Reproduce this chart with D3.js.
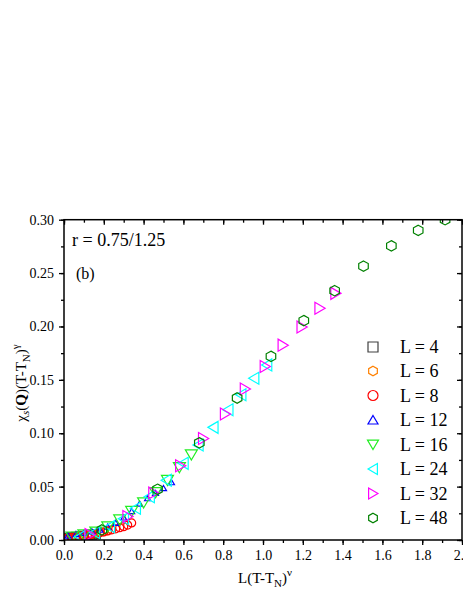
<!DOCTYPE html>
<html><head><meta charset="utf-8">
<script src="https://cdn.jsdelivr.net/npm/d3@7"></script>
<style>body{margin:0;background:#fff}svg{display:block}</style>
</head><body>
<svg id="c" width="463" height="599"></svg>
<script>
// ---- data ----
const seriesLabels = ["L = 4","L = 6","L = 8","L = 12","L = 16","L = 24","L = 32","L = 48"];
const l4x = [0.00,0.02,0.04,0.06,0.08,0.10,0.12,0.14,0.16];
const l4y = [0.0015,0.002,0.0025,0.003,0.0035,0.004,0.0045,0.005,0.0055];
const l6x = [0.00,0.02,0.04,0.06,0.08,0.10,0.12,0.14,0.16,0.18,0.20,0.22];
const l6y = [0.0015,0.002,0.0025,0.003,0.0035,0.004,0.0045,0.005,0.0057,0.0065,0.0075,0.0085];
const l8x = [0.00,0.02,0.04,0.06,0.08,0.10,0.12,0.14,0.16,0.18,0.20,0.22,0.24,0.26,0.28,0.30,0.32,0.34];
const l8y = [0.0012,0.0018,0.0024,0.003,0.0036,0.0042,0.0048,0.0054,0.006,0.0068,0.0076,0.0085,0.0095,0.0105,0.0115,0.0125,0.014,0.016];
const l12x = [0.02,0.06,0.10,0.14,0.18,0.22,0.26,0.30,0.34,0.38,0.42,0.46,0.50,0.54];
const l12y = [0.004,0.0055,0.0065,0.008,0.0095,0.0125,0.016,0.021,0.027,0.034,0.039,0.044,0.0485,0.054];
const l16x = [0.04,0.10,0.16,0.22,0.28,0.34,0.40,0.46,0.52,0.58,0.64];
const l16y = [0.003,0.005,0.0075,0.0125,0.019,0.027,0.035,0.0445,0.056,0.068,0.080];
const l24x = [0.08,0.155,0.23,0.30,0.36,0.43,0.515,0.60,0.675,0.75,0.825,0.89,0.955,1.02];
const l24y = [0.003,0.007,0.0125,0.020,0.0297,0.0406,0.056,0.0718,0.089,0.1055,0.122,0.136,0.1515,0.164];
const l32x = [0.13,0.32,0.45,0.585,0.70,0.81,0.91,1.01,1.10,1.195,1.285,1.365];
const l32y = [0.005,0.022,0.044,0.0695,0.095,0.118,0.1415,0.1625,0.1825,0.1995,0.217,0.231];
const l48x = [0.19,0.47,0.68,0.87,1.04,1.205,1.36,1.505,1.645,1.78,1.915];
const l48y = [0.0094,0.0475,0.091,0.133,0.172,0.2055,0.2335,0.2565,0.2755,0.290,0.300];
const xTicks = [0.0,0.2,0.4,0.6,0.8,1.0,1.2,1.4,1.6,1.8,2.0];
const yTicks = [0.00,0.05,0.10,0.15,0.20,0.25,0.30];

const colors = ["#404040","#ff8000","#ff0000","#0000ff","#22ee22","#00ffff","#ff00ff","#008000"];
const shapes = ["square","hexagon","circle","up","down","left","right","hexagon"];
const sizes  = [9,8,8,6,12,12,12,11];
const xs = [l4x,l6x,l8x,l12x,l16x,l24x,l32x,l48x];
const ys = [l4y,l6y,l8y,l12y,l16y,l24y,l32y,l48y];

// ---- layout ----
const svg = d3.select("#c");
const pL = 64, pR = 462, pT = 219.7, pB = 540;
const x = d3.scaleLinear().domain([0,2]).range([pL,pR]);
const y = d3.scaleLinear().domain([0,0.30]).range([pB,pT]);
const font = "'Liberation Serif','Times New Roman',serif";

function symPath(shape, s){
  const h = s/2;
  switch(shape){
    case "square": return `M${-h},${-h}H${h}V${h}H${-h}Z`;
    case "circle": return `M${h},0A${h},${h} 0 1,1 ${-h},0A${h},${h} 0 1,1 ${h},0Z`;
    case "hexagon": {
      const p2=[];
      for(let i=0;i<6;i++){const a=i*Math.PI/3 - Math.PI/2; p2.push([h*Math.cos(a), h*Math.sin(a)*0.95]);}
      return "M"+p2.map(p=>p.join(",")).join("L")+"Z";
    }
    case "up": return `M0,${-h*0.9}L${h},${h*0.8}L${-h},${h*0.8}Z`;
    case "down": return `M0,${h*0.9}L${h},${-h*0.8}L${-h},${-h*0.8}Z`;
    case "left": return `M${-h*0.9},0L${h*0.8},${-h}L${h*0.8},${h}Z`;
    case "right": return `M${h*0.9},0L${-h*0.8},${-h}L${-h*0.8},${h}Z`;
  }
}

svg.append("defs").append("clipPath").attr("id","clip")
  .append("rect").attr("x",pL).attr("y",pT).attr("width",pR-pL).attr("height",pB-pT);

// markers
const g = svg.append("g").attr("clip-path","url(#clip)");
xs.forEach((xa,k)=>{
  const pts = xa.map((v,i)=>[v, ys[k][i]]);
  g.selectAll(null).data(pts).enter().append("path")
    .attr("d", symPath(shapes[k], sizes[k]))
    .attr("transform", d=>`translate(${x(d[0])},${y(d[1])})`)
    .attr("fill","none").attr("stroke",colors[k]).attr("stroke-width",1.2);
});

// axes
function styleAxis(sel){
  sel.select(".domain").remove();
  sel.selectAll("line").attr("stroke","#000").attr("stroke-width",1.3);
  sel.selectAll("text").attr("font-family",font).attr("font-size","14px").attr("fill","#000");
}
const xMinor = d3.range(0,2.001,0.1);
const yMinor = d3.range(0,0.3001,0.025);
svg.append("g").attr("transform",`translate(0,${pB})`)
  .call(d3.axisBottom(x).tickValues(xMinor).tickSize(3).tickFormat(""))
  .call(styleAxis);
svg.append("g").attr("transform",`translate(0,${pB})`)
  .call(d3.axisBottom(x).tickValues(xTicks).tickSize(5).tickPadding(5).tickFormat(d3.format(".1f")))
  .call(styleAxis);
svg.append("g").attr("transform",`translate(${pL},0)`)
  .call(d3.axisLeft(y).tickValues(yMinor).tickSize(3).tickFormat(""))
  .call(styleAxis);
svg.append("g").attr("transform",`translate(${pL},0)`)
  .call(d3.axisLeft(y).tickValues(yTicks).tickSize(5).tickPadding(5).tickFormat(d3.format(".2f")))
  .call(styleAxis);
// mirror (inward)
svg.append("g").attr("transform",`translate(0,${pT})`)
  .call(d3.axisBottom(x).tickValues(xMinor).tickSize(3).tickFormat("")).call(styleAxis);
svg.append("g").attr("transform",`translate(0,${pT})`)
  .call(d3.axisBottom(x).tickValues(xTicks).tickSize(5).tickFormat("")).call(styleAxis);
svg.append("g").attr("transform",`translate(${pR},0)`)
  .call(d3.axisLeft(y).tickValues(yMinor).tickSize(3).tickFormat("")).call(styleAxis);
svg.append("g").attr("transform",`translate(${pR},0)`)
  .call(d3.axisLeft(y).tickValues(yTicks).tickSize(5).tickFormat("")).call(styleAxis);

svg.append("rect").attr("x",pL).attr("y",pT).attr("width",pR-pL).attr("height",pB-pT)
  .attr("fill","none").attr("stroke","#000").attr("stroke-width",1.5);

// annotations
svg.append("text").attr("x",72).attr("y",245.5).attr("font-family",font).attr("font-size","18px")
  .text("r = 0.75/1.25");
svg.append("text").attr("x",76).attr("y",279).attr("font-family",font).attr("font-size","16px")
  .text("(b)");

// legend
const legY = [347,371,395.5,420,444.5,469,493.5,518];
seriesLabels.forEach((lab,k)=>{
  svg.append("path").attr("d",symPath(shapes[k], k<4 ? 10 : sizes[k]-1))
    .attr("transform",`translate(373,${legY[k]})`)
    .attr("fill","none").attr("stroke",colors[k]).attr("stroke-width",1.2);
  svg.append("text").attr("x",400).attr("y",legY[k]+6.3).attr("font-family",font)
    .attr("font-size","18px").text(lab);
});

// x title
const xt = svg.append("text").attr("x",265).attr("y",583).attr("text-anchor","middle")
  .attr("font-family",font).attr("font-size","15px");
xt.append("tspan").text("L(T-T");
xt.append("tspan").attr("dy",4).attr("font-size","11px").text("N");
xt.append("tspan").attr("dy",-4).text(")");
xt.append("tspan").attr("dy",-7).attr("font-size","11px").text("ν");

// y title
const yt = svg.append("text").attr("transform","translate(26,383) rotate(-90)").attr("text-anchor","middle")
  .attr("font-family",font).attr("font-size","15px");
yt.append("tspan").text("χ");
yt.append("tspan").attr("dy",3).attr("font-size","11px").attr("font-style","italic").text("s");
yt.append("tspan").attr("dy",-3).text("(");
yt.append("tspan").attr("font-weight","bold").text("Q");
yt.append("tspan").text(")(T-T");
yt.append("tspan").attr("dy",4).attr("font-size","11px").text("N");
yt.append("tspan").attr("dy",-4).text(")");
yt.append("tspan").attr("dy",-7).attr("font-size","11px").text("γ");
</script>
</body></html>
